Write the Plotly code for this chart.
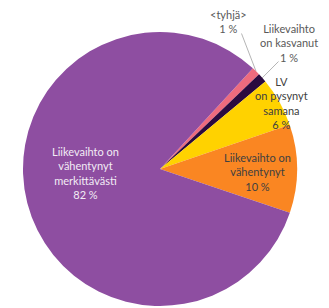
import math
import plotly.graph_objects as go

labels = ["<tyhjä>", "Liikevaihto on kasvanut", "LV on pysynyt samana",
          "Liikevaihto on vähentynyt", "Liikevaihto on vähentynyt merkittävästi"]
values = [1.0, 1.1, 5.8, 10.4, 81.7]
label_lines = [["&lt;tyhjä&gt;"], ["Liikevaihto", "on kasvanut"], ["LV", "on pysynyt", "samana"],
               ["Liikevaihto on", "vähentynyt"], ["Liikevaihto on", "vähentynyt", "merkittävästi"]]
colors = ["#EE6B7E", "#2B0B3F", "#FFD200", "#FA8622", "#8E4EA1"]
text_colors = ["#595959", "#595959", "#404040", "#404040", "#F2ECF5"]

OFF = 8  # page body margin
W, H = 329 - OFF, 308 - OFF


def px(x):
    return (x - OFF) / W


def py(y):
    return 1 - (y - OFF) / H


cx, cy, R = 160, 169, 137
rotation = 42.7

fig = go.Figure()

# label centres (reference pixels)
label_pos = [(228, 21), (289, 43), (281, 103), (257, 172), (85, 173)]
leader_tail = {0: (241.5, 33.5), 1: (278.5, 61.5)}

total = sum(values)
cum = 0.0
annotations = []
lx_pts, ly_pts = [], []
for i, v in enumerate(values):
    mid = rotation + 360 * (cum + v / 2) / total
    cum += v
    pct = f"{round(100 * v / total):d} %"
    txt = "<br>".join(label_lines[i] + [pct])
    lx, ly = label_pos[i]
    annotations.append(dict(x=px(lx), y=py(ly), xref="paper", yref="paper",
                            xanchor="center", yanchor="middle",
                            text=txt, showarrow=False, align="center",
                            font=dict(size=11, color=text_colors[i], family="Lato")))
    if i in leader_tail:
        ex = cx + R * math.sin(math.radians(mid))
        ey = cy - R * math.cos(math.radians(mid))
        tx, ty = leader_tail[i]
        lx_pts += [px(tx), px(ex), None]
        ly_pts += [py(ty), py(ey), None]

# leader lines on an invisible 0..1 cartesian frame
fig.add_trace(go.Scatter(x=lx_pts, y=ly_pts, mode="lines", hoverinfo="skip",
                         line=dict(color="#B5B5B5", width=1), showlegend=False))

fig.add_trace(go.Pie(
    labels=labels, values=values, sort=False, direction="clockwise",
    rotation=rotation, textinfo="none", hoverinfo="label+percent",
    marker=dict(colors=colors, line=dict(width=0)),
    domain=dict(x=[px(cx - R), px(cx + R)], y=[py(cy + R), py(cy - R)]),
    showlegend=False,
))

fig.update_layout(
    width=W, height=H, margin=dict(l=0, r=0, t=0, b=0),
    paper_bgcolor="white", plot_bgcolor="rgba(0,0,0,0)",
    annotations=annotations,
    font=dict(family="Lato"),
    xaxis=dict(range=[0, 1], visible=False, domain=[0, 1], fixedrange=True),
    yaxis=dict(range=[0, 1], visible=False, domain=[0, 1], fixedrange=True),
)
fig.write_html("out.html")
